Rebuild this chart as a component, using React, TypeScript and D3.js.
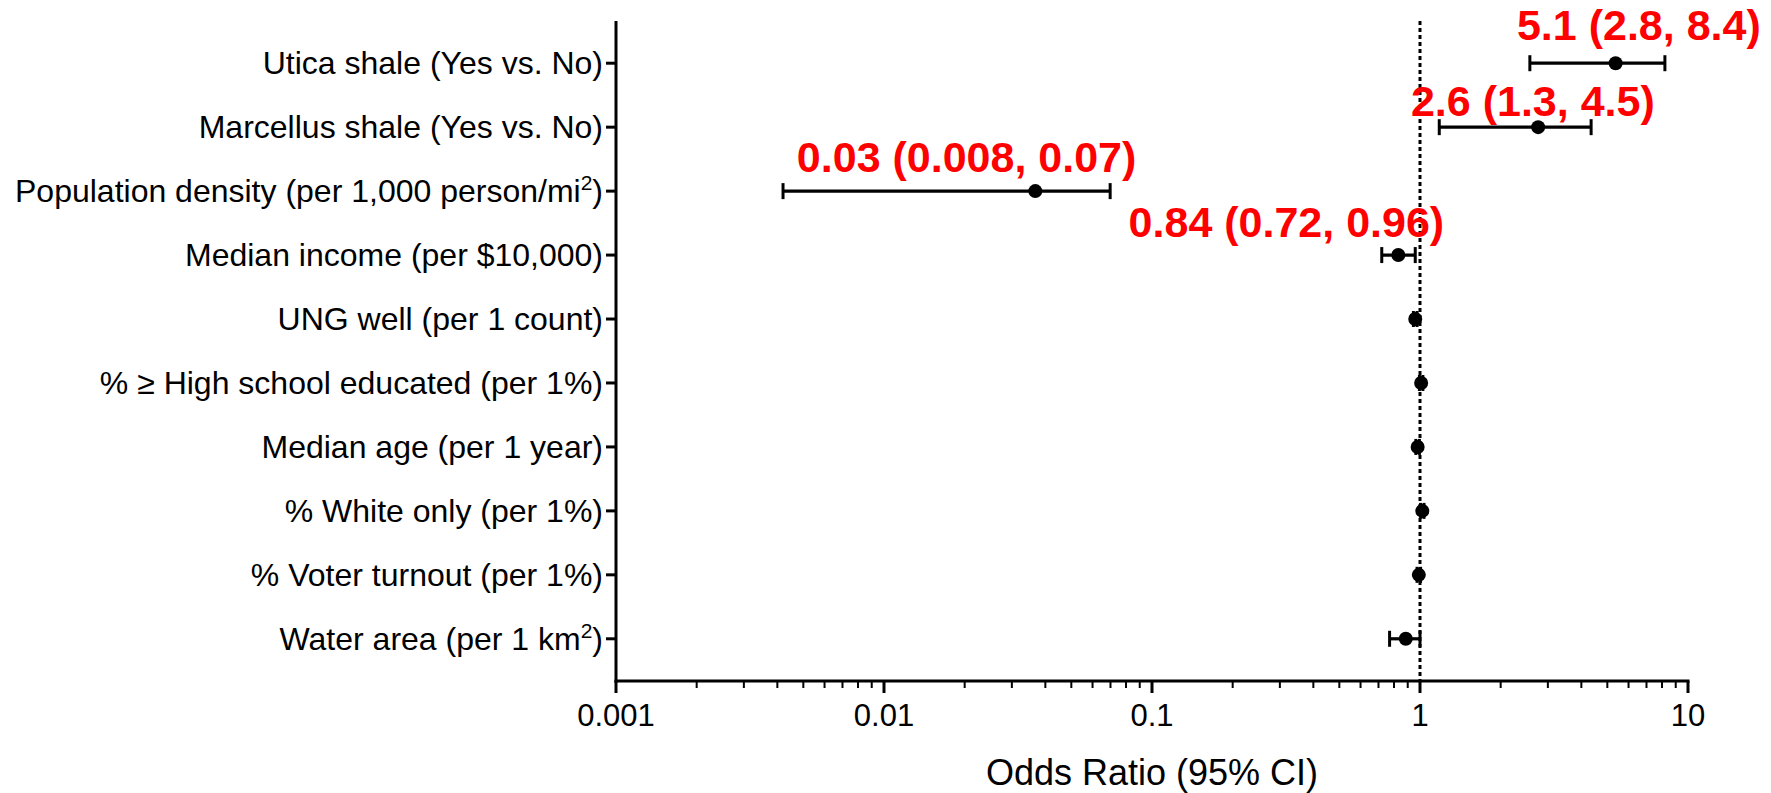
import React, { useEffect, useRef } from 'react';
import * as d3 from 'd3';

const rows = [
  'Utica shale (Yes vs. No)',
  'Marcellus shale (Yes vs. No)',
  'Population density (per 1,000 person/mi²)',
  'Median income (per $10,000)',
  'UNG well (per 1 count)',
  '% ≥ High school educated (per 1%)',
  'Median age (per 1 year)',
  '% White only (per 1%)',
  '% Voter turnout (per 1%)',
  'Water area (per 1 km²)',
];
const oddsRatio = [5.37, 2.76, 0.0367, 0.83, 0.96, 1.01, 0.98, 1.02, 0.99, 0.885];
const ciLow = [2.57, 1.18, 0.0042, 0.72, 0.945, 0.995, 0.965, 1.005, 0.975, 0.77];
const ciHigh = [8.2, 4.35, 0.0698, 0.96, 0.975, 1.025, 0.995, 1.035, 1.005, 1.0];

const xTicks = [0.001, 0.01, 0.1, 1, 10];
const xTickLabels = ['0.001', '0.01', '0.1', '1', '10'];

// red annotations: which row, text, and where the text starts on the OR axis
const noteRows = [0, 1, 2, 3];
const noteTexts = ['5.1 (2.8, 8.4)', '2.6 (1.3, 4.5)', '0.03 (0.008, 0.07)', '0.84 (0.72, 0.96)'];
const noteStart = [2.3, 0.925, 0.00473, 0.0818];

const W = 1771;
const H = 793;
const FONT = '"Liberation Sans", Arial, sans-serif';

const App = () => {
  const svgRef = useRef(null);

  useEffect(() => {
    const svg = d3.select(svgRef.current);
    svg.selectAll('*').remove();

    const left = 616, right = 1688, top = 21, bottom = 681;

    const x = d3.scaleLog().domain([0.001, 10]).range([left, right]);
    const y = d3.scalePoint().domain(rows).range([top, bottom]).padding(0.66);

    // reference line at OR = 1
    svg.append('line')
      .attr('x1', x(1)).attr('x2', x(1))
      .attr('y1', top).attr('y2', bottom)
      .attr('stroke', '#000')
      .attr('stroke-width', 3)
      .attr('stroke-dasharray', '4 3');

    // y axis
    const yAxis = svg.append('g').attr('transform', `translate(${left},0)`);
    yAxis.append('line')
      .attr('x1', 0).attr('x2', 0)
      .attr('y1', top).attr('y2', bottom + 1.5)
      .attr('stroke', '#000').attr('stroke-width', 3);
    rows.forEach(r => {
      const g = yAxis.append('g').attr('transform', `translate(0,${y(r)})`);
      g.append('line').attr('x1', -10).attr('x2', 0).attr('stroke', '#000').attr('stroke-width', 3);
      const t = g.append('text')
        .attr('x', -13).attr('y', 11)
        .attr('text-anchor', 'end')
        .attr('font-family', FONT).attr('font-size', 32).attr('fill', '#000');
      const parts = r.split('²');
      parts.forEach((p, i) => {
        const s = t.append('tspan').text(p);
        if (i > 0) s.attr('dy', 12);
        if (i < parts.length - 1) {
          t.append('tspan').attr('font-size', 21).attr('dy', -12).text('2');
        }
      });
    });

    // x axis
    const xAxis = svg.append('g').attr('transform', `translate(0,${bottom})`);
    xAxis.append('line')
      .attr('x1', left - 1.5).attr('x2', right + 1.5)
      .attr('stroke', '#000').attr('stroke-width', 3);
    const minor = [];
    for (let d = 0; d < xTicks.length - 1; d++) {
      for (let k = 2; k <= 9; k++) minor.push(xTicks[d] * k);
    }
    xAxis.selectAll('.minor').data(minor).enter().append('line')
      .attr('class', 'minor')
      .attr('x1', d => x(d)).attr('x2', d => x(d))
      .attr('y1', 0).attr('y2', 7)
      .attr('stroke', '#000').attr('stroke-width', 2);
    xAxis.selectAll('.major').data(xTicks).enter().append('line')
      .attr('class', 'major')
      .attr('x1', d => x(d)).attr('x2', d => x(d))
      .attr('y1', 0).attr('y2', 12)
      .attr('stroke', '#000').attr('stroke-width', 3);
    xAxis.selectAll('.lbl').data(xTicks).enter().append('text')
      .attr('class', 'lbl')
      .attr('x', d => x(d)).attr('y', 45)
      .attr('text-anchor', 'middle')
      .attr('font-family', FONT).attr('font-size', 31).attr('fill', '#000')
      .text((d, i) => xTickLabels[i]);

    svg.append('text')
      .attr('x', (left + right) / 2).attr('y', 785)
      .attr('text-anchor', 'middle')
      .attr('font-family', FONT).attr('font-size', 36).attr('fill', '#000')
      .text('Odds Ratio (95% CI)');

    // error bars
    const bars = svg.append('g');
    rows.forEach((r, i) => {
      const cy = y(r);
      const g = bars.append('g');
      g.append('line')
        .attr('x1', x(ciLow[i])).attr('x2', x(ciHigh[i]))
        .attr('y1', cy).attr('y2', cy)
        .attr('stroke', '#000').attr('stroke-width', 3.2);
      [ciLow[i], ciHigh[i]].forEach(v => {
        g.append('line')
          .attr('x1', x(v)).attr('x2', x(v))
          .attr('y1', cy - 8).attr('y2', cy + 8)
          .attr('stroke', '#000').attr('stroke-width', 3);
      });
      g.append('circle')
        .attr('cx', x(oddsRatio[i])).attr('cy', cy).attr('r', 7)
        .attr('fill', '#000');
    });

    // annotations
    const dys = [-23, -11, -19, -18];
    noteRows.forEach((ri, i) => {
      svg.append('text')
        .attr('x', x(noteStart[i]))
        .attr('y', y(rows[ri]) + dys[i])
        .attr('font-family', FONT).attr('font-size', 43).attr('font-weight', 'bold')
        .attr('fill', '#ff0000')
        .text(noteTexts[i]);
    });
  }, []);

  return (
    <svg
      ref={svgRef}
      width={W}
      height={H}
      style={{ position: 'absolute', left: 0, top: 0, background: '#fff' }}
    />
  );
};

export default App;
